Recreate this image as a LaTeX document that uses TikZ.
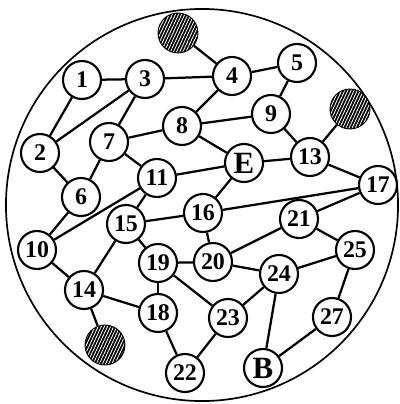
\documentclass[tikz,border=0pt]{standalone}
\usepackage{tikz}
\usepackage{fontspec}
\setmainfont{Liberation Serif}
\usetikzlibrary{patterns.meta}

\begin{document}
\begin{tikzpicture}[x=0.025cm, y=-0.025cm,
        main/.style = {draw, circle, line width=1.5pt, fill=white, minimum size=0.95cm, inner sep=0pt, font=\fontsize{17}{19}\selectfont\bfseries},
        big/.style = {main, font=\fontsize{22}{24}\selectfont\bfseries},
        hatch/.style = {draw, circle, line width=1.5pt, minimum size=0.97cm, fill=black,
            postaction={pattern={Lines[angle=65, distance=2pt, line width=0.6pt]}, pattern color=white}},
        wire/.style = {line width=1.6pt}]
            \useasboundingbox (0,0) rectangle (400,404);
            \draw[line width=1.2pt] (202,205) circle [radius=4.9cm];

            \node[main] (n1) at (82,80) {1};
            \node[main] (n2) at (40,153) {2};
            \node[main] (n3) at (145,79) {3};
            \node[main] (n4) at (232,76) {4};
            \node[main] (n5) at (297,63) {5};
            \node[main] (n6) at (81,197) {6};
            \node[main] (n7) at (109,142) {7};
            \node[main] (n8) at (182,126) {8};
            \node[main] (n9) at (271,114) {9};
            \node[main] (n10) at (37,250) {10};
            \node[main] (n11) at (157,178) {11};
            \node[main] (n13) at (310,157) {13};
            \node[main] (n14) at (84,290) {14};
            \node[main] (n15) at (126,224) {15};
            \node[main] (n16) at (203,213) {16};
            \node[main] (n17) at (378,185) {17};
            \node[main] (n18) at (158,313) {18};
            \node[main] (n19) at (158,263) {19};
            \node[main] (n20) at (213,262) {20};
            \node[main] (n21) at (299,219) {21};
            \node[main] (n22) at (185,373) {22};
            \node[main] (n23) at (228,318) {23};
            \node[main] (n24) at (279,274) {24};
            \node[main] (n25) at (355,250) {25};
            \node[main] (n27) at (332,317) {27};
            \node[big] (E) at (244,163) {E};
            \node[big] (B) at (263,368) {B};

            \node[hatch] (topdot) at (178,33) {};
            \node[hatch] (rightdot) at (350,109) {};
            \node[hatch] (lowdot) at (105,345) {};

            \path[wire] (topdot) edge (n4);
            \path[wire] (rightdot) edge (n13);
            \path[wire] (lowdot) edge (n14);

            \path[wire] (n1) edge (n3);
            \path[wire] (n1) edge (n2);
            \path[wire] (n2) edge (n3);
            \path[wire] (n2) edge (n6);
            \path[wire] (n3) edge (n4);
            \path[wire] (n3) edge (n7);
            \path[wire] (n4) edge (n5);
            \path[wire] (n4) edge (n8);
            \path[wire] (n5) edge (n9);
            \path[wire] (n6) edge (n7);
            \path[wire] (n6) edge (n10);
            \path[wire] (n7) edge (n8);
            \path[wire] (n7) edge (n11);
            \path[wire] (n8) edge (n9);
            \path[wire] (n8) edge (E);
            \path[wire] (n9) edge (n13);
            \path[wire] (E) edge (n13);
            \path[wire] (n13) edge (n17);
            \path[wire] (n11) edge (E);
            \path[wire] (n11) edge (n15);
            \path[wire] (n11) edge (n10);
            \path[wire] (E) edge (n16);
            \path[wire] (n16) edge (n17);
            \path[wire] (n10) edge (n14);
            \path[wire] (n14) edge (n15);
            \path[wire] (n14) edge (n18);
            \path[wire] (n15) edge (n16);
            \path[wire] (n15) edge (n19);
            \path[wire] (n16) edge (n20);
            \path[wire] (n19) edge (n20);
            \path[wire] (n19) edge (n18);
            \path[wire] (n19) edge (n23);
            \path[wire] (n18) edge (n22);
            \path[wire] (n22) edge (n23);
            \path[wire] (n20) edge (n21);
            \path[wire] (n20) edge (n24);
            \path[wire] (n21) edge (n17);
            \path[wire] (n21) edge (n25);
            \path[wire] (n24) edge (n25);
            \path[wire] (n24) edge (n23);
            \path[wire] (n24) edge (B);
            \path[wire] (n25) edge (n27);
            \path[wire] (n27) edge (B);
        \end{tikzpicture}
\end{document}
